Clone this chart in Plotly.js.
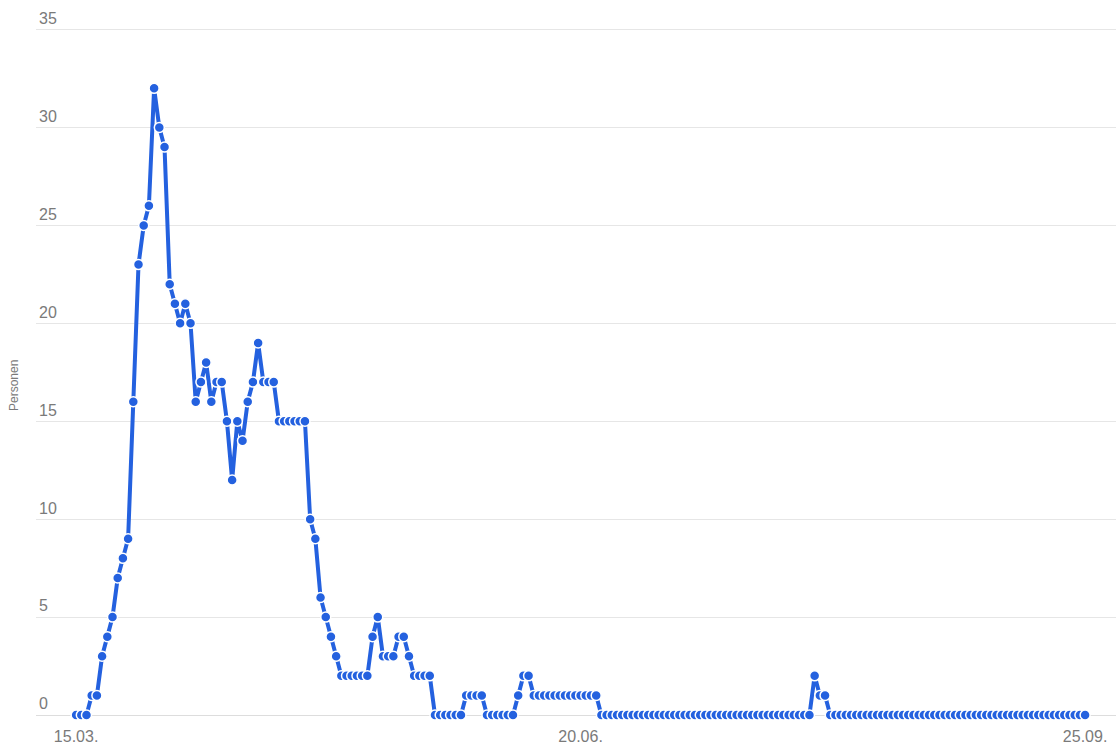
<!DOCTYPE html>
<html>
<head>
<meta charset="utf-8">
<script src="https://cdn.plot.ly/plotly-3.0.1.min.js"></script>
<style>
  html, body { margin: 0; padding: 0; background: #ffffff; }
  #chart { width: 1116px; height: 749px; }
</style>
</head>
<body>
<div id="chart"></div>
<script>
// First day of the series (15.03.2020), one value per day
var startDate = '2020-03-15';

var persons = [
  0, 0, 0, 1, 1, 3, 4, 5, 7, 8,
  9, 16, 23, 25, 26, 32, 30, 29, 22, 21,
  20, 21, 20, 16, 17, 18, 16, 17, 17, 15,
  12, 15, 14, 16, 17, 19, 17, 17, 17, 15,
  15, 15, 15, 15, 15, 10, 9, 6, 5, 4,
  3, 2, 2, 2, 2, 2, 2, 4, 5, 3,
  3, 3, 4, 4, 3, 2, 2, 2, 2, 0,
  0, 0, 0, 0, 0, 1, 1, 1, 1, 0,
  0, 0, 0, 0, 0, 1, 2, 2, 1, 1,
  1, 1, 1, 1, 1, 1, 1, 1, 1, 1,
  1, 0, 0, 0, 0, 0, 0, 0, 0, 0,
  0, 0, 0, 0, 0, 0, 0, 0, 0, 0,
  0, 0, 0, 0, 0, 0, 0, 0, 0, 0,
  0, 0, 0, 0, 0, 0, 0, 0, 0, 0,
  0, 0, 2, 1, 1, 0, 0, 0, 0, 0,
  0, 0, 0, 0, 0, 0, 0, 0, 0, 0,
  0, 0, 0, 0, 0, 0, 0, 0, 0, 0,
  0, 0, 0, 0, 0, 0, 0, 0, 0, 0,
  0, 0, 0, 0, 0, 0, 0, 0, 0, 0,
  0, 0, 0, 0, 0
];

var tickDates = ['2020-03-15', '2020-06-20', '2020-09-25'];
var tickLabels = ['15.03.', '20.06.', '25.09.'];
var yTicks = [0, 5, 10, 15, 20, 25, 30, 35];
var yTitle = 'Personen';

// build the date for each daily value
function dayString(base, offset) {
  var d = new Date(base + 'T00:00:00Z');
  d.setUTCDate(d.getUTCDate() + offset);
  return d.toISOString().slice(0, 10);
}
var dates = persons.map(function (_, i) { return dayString(startDate, i); });

var blue = '#2461df';
var grey = '#7a7a7a';

var trace = {
  x: dates,
  y: persons,
  type: 'scatter',
  mode: 'lines+markers',
  line: { color: blue, width: 4, shape: 'linear' },
  marker: { color: blue, size: 10, line: { color: '#ffffff', width: 1.5 } },
  cliponaxis: false,
  hoverinfo: 'skip',
  showlegend: false
};

var layout = {
  width: 1116,
  height: 749,
  margin: { l: 36, r: 0, t: 0, b: 34, pad: 0 },
  paper_bgcolor: '#ffffff',
  plot_bgcolor: '#ffffff',
  font: { family: 'Liberation Sans, Arial, sans-serif', color: grey },
  showlegend: false,
  xaxis: {
    type: 'date',
    range: ['2020-03-07 06:58', '2020-09-30 22:34'],
    tickmode: 'array',
    tickvals: tickDates,
    ticktext: tickLabels,
    showgrid: false,
    zeroline: false,
    showline: false,
    ticks: '',
    ticklabelstandoff: 10,
    tickfont: { size: 16, color: grey },
    fixedrange: true
  },
  yaxis: {
    range: [0, 36.51],
    tickmode: 'array',
    tickvals: yTicks,
    ticktext: yTicks.map(String),
    ticklabelposition: 'inside top',
    ticks: '',
    showgrid: true,
    gridcolor: '#e6e6e6',
    gridwidth: 1,
    zeroline: true,
    zerolinecolor: '#dddddd',
    zerolinewidth: 1,
    showline: false,
    tickfont: { size: 16, color: grey },
    fixedrange: true
  },
  annotations: [{
    text: yTitle,
    xref: 'paper', yref: 'paper',
    x: 0, y: (715 - 386) / 715,
    xanchor: 'center', yanchor: 'middle',
    xshift: -22,
    textangle: -90,
    showarrow: false,
    font: { size: 12, color: grey }
  }]
};

Plotly.newPlot('chart', [trace], layout, { displayModeBar: false, staticPlot: true });
</script>
</body>
</html>
